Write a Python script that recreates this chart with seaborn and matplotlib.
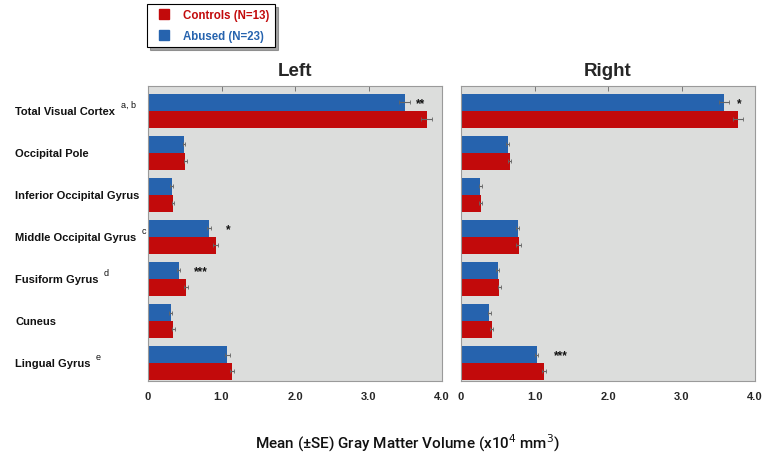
import matplotlib
matplotlib.use("Agg")
import matplotlib.pyplot as plt
from matplotlib.lines import Line2D
import seaborn as sns
import pandas as pd
import numpy as np

regions = ["Total Visual Cortex", "Occipital Pole", "Inferior Occipital Gyrus",
           "Middle Occipital Gyrus", "Fusiform Gyrus", "Cuneus", "Lingual Gyrus"]
superscripts = ["a, b", "", "", "c", "d", "", "e"]

left_abused = [3.49, 0.49, 0.32, 0.83, 0.42, 0.31, 1.08]
left_abused_se = [0.08, 0.02, 0.02, 0.03, 0.02, 0.02, 0.03]
left_controls = [3.79, 0.505, 0.34, 0.92, 0.52, 0.345, 1.145]
left_controls_se = [0.07, 0.02, 0.02, 0.03, 0.03, 0.02, 0.03]

right_abused = [3.58, 0.635, 0.26, 0.775, 0.50, 0.385, 1.03]
right_abused_se = [0.07, 0.02, 0.02, 0.02, 0.02, 0.02, 0.02]
right_controls = [3.77, 0.66, 0.27, 0.785, 0.52, 0.42, 1.13]
right_controls_se = [0.07, 0.02, 0.02, 0.03, 0.02, 0.02, 0.03]

left_stars = [("**", 0, 3.71), ("*", 3, 1.09), ("***", 4, 0.72)]
right_stars = [("*", 0, 3.78), ("***", 6, 1.36)]

groups = ["Abused (N=23)", "Controls (N=13)"]
colors = {"Abused (N=23)": "#2663AE", "Controls (N=13)": "#C20A0B"}
xticks = [0, 1, 2, 3, 4]
xticklabels = ["0", "1.0", "2.0", "3.0", "4.0"]

sns.set_theme(style="white")
plt.rcParams["font.family"] = ["Liberation Sans", "DejaVu Sans"]

fig = plt.figure(figsize=(7.63, 4.6), dpi=100)
W, H = 763, 460
ax_l = fig.add_axes([148 / W, 1 - 382 / H, 294 / W, 295 / H])
ax_r = fig.add_axes([461 / W, 1 - 382 / H, 294 / W, 295 / H])


def draw(ax, abused, abused_se, controls, controls_se, stars, title):
    df = pd.DataFrame({
        "Region": regions * 2,
        "Group": [groups[0]] * len(regions) + [groups[1]] * len(regions),
        "Volume": abused + controls,
        "SE": abused_se + controls_se,
    })
    sns.barplot(data=df, y="Region", x="Volume", hue="Group", hue_order=groups,
                order=regions, palette=colors, orient="h", errorbar=None,
                width=0.8, ax=ax, legend=False, saturation=1,
                edgecolor="none", linewidth=0)
    for cont, g in zip(ax.containers, groups):
        sub = df[df["Group"] == g].set_index("Region").loc[regions]
        ys = [p.get_y() + p.get_height() / 2 for p in cont.patches]
        ax.errorbar(sub["Volume"].values, ys, xerr=sub["SE"].values, fmt="none",
                    ecolor="#666666", elinewidth=0.8, capsize=1.5, capthick=0.6)
    abused_patches = ax.containers[0].patches
    for s, i, x in stars:
        p = abused_patches[i]
        ax.text(x, p.get_y() + p.get_height() / 2 + 0.02, s, ha="center", va="center",
                fontsize=8.5, fontweight="bold", color="#111111")
    ax.set_facecolor("#DCDDDC")
    ax.set_xlim(0, 4.0)
    ax.set_ylim(6.43, -0.59)
    ax.set_xticks(xticks)
    ax.set_xticklabels(xticklabels, fontsize=8, fontweight="bold")
    ax.set_yticks([])
    ax.set_xlabel("")
    ax.set_ylabel("")
    ax.tick_params(axis="x", which="both", direction="in", length=3.5, width=0.7,
                   color="#777777", top=True, bottom=False, pad=7)
    for sp in ax.spines.values():
        sp.set_color("#9A9A9A")
        sp.set_linewidth(0.8)
    ax.set_title(title, fontsize=13.5, fontweight="bold", pad=8)


draw(ax_l, left_abused, left_abused_se, left_controls, left_controls_se, left_stars, "Left")
draw(ax_r, right_abused, right_abused_se, right_controls, right_controls_se, right_stars, "Right")

fig.canvas.draw()
for i, (name, sup) in enumerate(zip(regions, superscripts)):
    ytxt = ax_l.transData.transform((0, i))[1]
    t = fig.text(15 / W, ytxt / fig.bbox.height, name, ha="left", va="center",
                 fontsize=8, fontweight="bold", color="#111111")
    if sup:
        ax_l.annotate(sup, xy=(1, 1), xycoords=t, xytext=(4, 4),
                      textcoords="offset points", ha="left", va="top",
                      fontsize=6.5, color="#111111", annotation_clip=False)

fig.text(408 / W, 1 - 443 / H, "Mean (\u00b1SE) Gray Matter Volume (x10$^4$ mm$^3$)",
         ha="center", va="center", fontsize=11, fontweight="medium", color="#111111",
         family=["Roboto", "Liberation Sans", "DejaVu Sans"])

handles = [Line2D([], [], marker="s", linestyle="none", markersize=7.5,
                  markerfacecolor=colors[g], markeredgecolor=colors[g])
           for g in ["Controls (N=13)", "Abused (N=23)"]]
leg = fig.legend(handles, ["Controls (N=13)", "Abused (N=23)"], loc="upper left",
                 bbox_to_anchor=(147 / W, 1 - 5 / H), frameon=True, shadow=True,
                 fancybox=False, edgecolor="black", handletextpad=0.7,
                 borderpad=0.45, labelspacing=0.75, handlelength=2.0,
                 borderaxespad=0,
                 labelcolor=[colors["Controls (N=13)"], colors["Abused (N=23)"]],
                 prop={"weight": "bold", "size": 8.3})
leg.get_frame().set_linewidth(0.8)

fig.savefig("out.png", dpi=100, facecolor="white")
